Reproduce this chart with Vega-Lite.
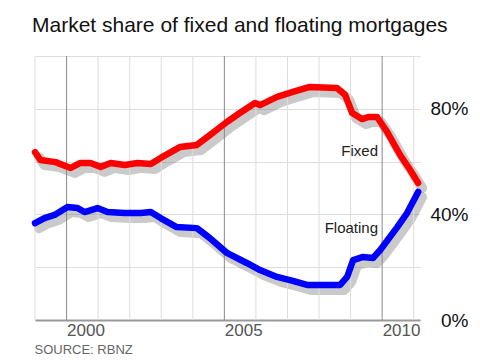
{
  "$schema": "https://vega.github.io/schema/vega-lite/v6.json",
  "width": 385,
  "height": 264,
  "autosize": {"type": "none"},
  "padding": {"left": 35, "top": 56, "right": 60, "bottom": 40},
  "background": "#ffffff",
  "config": {
    "view": {"stroke": null},
    "font": "Liberation Sans"
  },
  "title": {
    "text": "Market share of fixed and floating mortgages",
    "anchor": "start",
    "frame": "group",
    "baseline": "alphabetic",
    "offset": -6,
    "dx": -3,
    "fontSize": 21,
    "fontWeight": "normal",
    "font": "Liberation Sans",
    "color": "#111111"
  },
  "datasets": {
    "series": [
      {"year": 1999.0, "share": 63.6, "type": "Fixed"},
      {"year": 1999.17, "share": 60.6, "type": "Fixed"},
      {"year": 1999.65, "share": 59.8, "type": "Fixed"},
      {"year": 2000.13, "share": 57.6, "type": "Fixed"},
      {"year": 2000.44, "share": 59.5, "type": "Fixed"},
      {"year": 2000.76, "share": 59.5, "type": "Fixed"},
      {"year": 2001.08, "share": 58.0, "type": "Fixed"},
      {"year": 2001.4, "share": 59.5, "type": "Fixed"},
      {"year": 2001.84, "share": 58.7, "type": "Fixed"},
      {"year": 2002.25, "share": 59.5, "type": "Fixed"},
      {"year": 2002.67, "share": 59.1, "type": "Fixed"},
      {"year": 2002.98, "share": 61.4, "type": "Fixed"},
      {"year": 2003.59, "share": 65.5, "type": "Fixed"},
      {"year": 2004.13, "share": 66.3, "type": "Fixed"},
      {"year": 2004.54, "share": 70.0, "type": "Fixed"},
      {"year": 2005.08, "share": 75.0, "type": "Fixed"},
      {"year": 2005.49, "share": 78.4, "type": "Fixed"},
      {"year": 2005.97, "share": 82.2, "type": "Fixed"},
      {"year": 2006.13, "share": 81.4, "type": "Fixed"},
      {"year": 2006.67, "share": 84.5, "type": "Fixed"},
      {"year": 2007.17, "share": 86.4, "type": "Fixed"},
      {"year": 2007.71, "share": 88.3, "type": "Fixed"},
      {"year": 2008.57, "share": 87.9, "type": "Fixed"},
      {"year": 2008.83, "share": 85.2, "type": "Fixed"},
      {"year": 2009.05, "share": 78.4, "type": "Fixed"},
      {"year": 2009.37, "share": 76.1, "type": "Fixed"},
      {"year": 2009.56, "share": 76.9, "type": "Fixed"},
      {"year": 2009.84, "share": 76.9, "type": "Fixed"},
      {"year": 2010.16, "share": 71.2, "type": "Fixed"},
      {"year": 2010.57, "share": 62.5, "type": "Fixed"},
      {"year": 2010.89, "share": 56.8, "type": "Fixed"},
      {"year": 2011.14, "share": 51.9, "type": "Fixed"},
      {"year": 1999.0, "share": 36.7, "type": "Floating"},
      {"year": 1999.3, "share": 38.6, "type": "Floating"},
      {"year": 1999.62, "share": 39.8, "type": "Floating"},
      {"year": 2000.03, "share": 42.8, "type": "Floating"},
      {"year": 2000.35, "share": 42.4, "type": "Floating"},
      {"year": 2000.57, "share": 40.9, "type": "Floating"},
      {"year": 2000.98, "share": 42.4, "type": "Floating"},
      {"year": 2001.3, "share": 40.9, "type": "Floating"},
      {"year": 2001.84, "share": 40.5, "type": "Floating"},
      {"year": 2002.35, "share": 40.5, "type": "Floating"},
      {"year": 2002.67, "share": 40.9, "type": "Floating"},
      {"year": 2002.98, "share": 38.6, "type": "Floating"},
      {"year": 2003.49, "share": 35.2, "type": "Floating"},
      {"year": 2004.13, "share": 34.8, "type": "Floating"},
      {"year": 2004.54, "share": 31.0, "type": "Floating"},
      {"year": 2005.08, "share": 25.4, "type": "Floating"},
      {"year": 2005.71, "share": 21.6, "type": "Floating"},
      {"year": 2006.13, "share": 18.9, "type": "Floating"},
      {"year": 2006.67, "share": 16.3, "type": "Floating"},
      {"year": 2007.17, "share": 14.8, "type": "Floating"},
      {"year": 2007.62, "share": 13.3, "type": "Floating"},
      {"year": 2008.67, "share": 13.3, "type": "Floating"},
      {"year": 2008.89, "share": 16.3, "type": "Floating"},
      {"year": 2009.08, "share": 22.7, "type": "Floating"},
      {"year": 2009.4, "share": 23.9, "type": "Floating"},
      {"year": 2009.71, "share": 23.5, "type": "Floating"},
      {"year": 2009.94, "share": 26.5, "type": "Floating"},
      {"year": 2010.48, "share": 35.2, "type": "Floating"},
      {"year": 2010.79, "share": 40.5, "type": "Floating"},
      {"year": 2011.14, "share": 48.5, "type": "Floating"}
    ],
    "labels": [
      {"year": 2009.87, "share": 64.0, "label": "Fixed"},
      {"year": 2009.87, "share": 34.8, "label": "Floating"}
    ],
    "minors": [
      {"year": 1999}, {"year": 2001}, {"year": 2002}, {"year": 2003}, {"year": 2004},
      {"year": 2006}, {"year": 2007}, {"year": 2008}, {"year": 2009}, {"year": 2011}
    ],
    "majors": [
      {"year": 2000},
      {"year": 2005},
      {"year": 2010}
    ]
  },
  "layer": [
    {
      "data": {"name": "series"},
      "mark": {"type": "line", "strokeWidth": 10, "color": "#666666", "opacity": 0.35, "strokeCap": "round", "strokeJoin": "round"},
      "encoding": {
        "x": {"field": "year", "type": "quantitative", "scale": {"domain": [1998.873, 2011.073], "nice": false, "zero": false}, "axis": null},
        "y": {"field": "share", "type": "quantitative", "scale": {"domain": [1.9, 101.9], "nice": false, "zero": false}, "axis": null},
        "detail": {"field": "type"}
      }
    },
    {
      "layer": [
        {
          "data": {"name": "minors"},
          "mark": {"type": "rule", "color": "#dddddd", "strokeWidth": 1},
          "encoding": {
            "x": {"field": "year", "type": "quantitative"}
          }
        },
        {
          "data": {"name": "majors"},
          "mark": {"type": "rule", "color": "#888888", "strokeWidth": 1},
          "encoding": {
            "x": {"field": "year", "type": "quantitative"}
          }
        },
        {
          "data": {"name": "series"},
          "mark": {"type": "line", "strokeWidth": 6.5, "strokeCap": "round", "strokeJoin": "round"},
          "encoding": {
            "x": {
              "field": "year",
              "type": "quantitative",
              "scale": {"domain": [1999, 2011.2], "nice": false, "zero": false},
              "axis": {
                "values": [2000, 2005, 2010],
                "format": "d",
                "labelOverlap": false,
                "labelFlush": false,
                "labelBound": false,
                "labelAlign": "left",
                "labelFontSize": 17,
                "labelColor": "#555555",
                "labelPadding": 2,
                "labelFont": "Liberation Sans",
                "ticks": false,
                "domainColor": "#999999",
                "domainWidth": 2,
                "grid": false,
                "title": "SOURCE: RBNZ",
                "titleAnchor": "start",
                "titleAlign": "left",
                "titleFontSize": 13,
                "titleFontWeight": "normal",
                "titleFont": "Liberation Sans",
                "titleColor": "#666666",
                "titlePadding": 5,
                "titleX": -1
              }
            },
            "y": {
              "field": "share",
              "type": "quantitative",
              "scale": {"domain": [0, 100], "nice": false},
              "axis": {
                "orient": "right",
                "values": [0, 20, 40, 60, 80, 100],
                "labelExpr": "datum.value % 40 === 0 && datum.value < 100 ? datum.value + '%' : ''",
                "labelOverlap": false,
                "labelAlign": "right",
                "labelPadding": 48,
                "labelFontSize": 19,
                "labelColor": "#111111",
                "labelFont": "Liberation Sans",
                "ticks": false,
                "domain": false,
                "grid": true,
                "gridColor": "#dddddd",
                "gridWidth": 1,
                "title": null
              }
            },
            "color": {"field": "type", "type": "nominal", "scale": {"domain": ["Fixed", "Floating"], "range": ["#ff0000", "#0000ff"]}, "legend": null}
          }
        },
        {
          "data": {"name": "labels"},
          "mark": {"type": "text", "align": "right", "baseline": "middle", "fontSize": 15, "font": "Liberation Sans", "color": "#222222"},
          "encoding": {
            "x": {"field": "year", "type": "quantitative"},
            "y": {"field": "share", "type": "quantitative"},
            "text": {"field": "label"}
          }
        }
      ]
    }
  ],
  "resolve": {"scale": {"x": "independent", "y": "independent"}}
}
